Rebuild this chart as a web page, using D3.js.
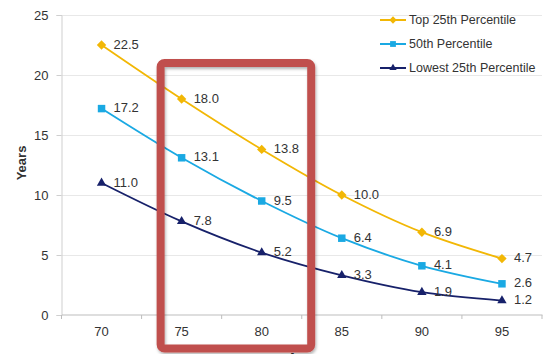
<!DOCTYPE html>
<html>
<head>
  <meta charset="utf-8">
  <title>Years by age and percentile</title>
  <script src="https://cdn.jsdelivr.net/npm/d3@7"></script>
  <style>
    body { margin: 0; background: #fff; }
    text { font-family: "Liberation Sans", Arial, sans-serif; fill: #333; }
  </style>
</head>
<body>
  <svg id="chart" width="548" height="354"></svg>
  <script>
    // data
    const ages = ["70", "75", "80", "85", "90", "95"];
    const top25 = [22.5, 18.0, 13.8, 10.0, 6.9, 4.7];
    const median = [17.2, 13.1, 9.5, 6.4, 4.1, 2.6];
    const lowest25 = [11.0, 7.8, 5.2, 3.3, 1.9, 1.2];
    const yTicks = [0, 5, 10, 15, 20, 25];
    const highlight = ["75", "80"];

    const series = [
      { name: "Top 25th Percentile", values: top25, color: "#f2b705", symbol: d3.symbolDiamond2, size: 56 },
      { name: "50th Percentile", values: median, color: "#1aa9e3", symbol: d3.symbolSquare, size: 56 },
      { name: "Lowest 25th Percentile", values: lowest25, color: "#17216a", symbol: d3.symbolTriangle, size: 38 }
    ];

    const svg = d3.select("#chart");
    const plotL = 61.5, plotR = 542, plotT = 15, plotB = 315;

    const x = d3.scaleBand().domain(ages).range([plotL, plotR]);
    const y = d3.scaleLinear().domain([0, 25]).range([plotB, plotT]);
    const cx = d => x(d) + x.bandwidth() / 2;

    // grid
    svg.append("g")
      .selectAll("line")
      .data(yTicks.filter(t => t > 0))
      .join("line")
      .attr("x1", plotL).attr("x2", plotR)
      .attr("y1", d => Math.round(y(d)) + 0.5).attr("y2", d => Math.round(y(d)) + 0.5)
      .attr("stroke", "#e8e8e8");

    // y axis
    const yAxis = svg.append("g")
      .attr("transform", `translate(${plotL},0)`)
      .call(d3.axisLeft(y).tickValues(yTicks).tickSize(5).tickPadding(8));
    yAxis.select(".domain").attr("stroke", "#cfcfcf");
    yAxis.selectAll(".tick line").attr("stroke", "#cfcfcf");
    yAxis.selectAll("text").style("font-size", "13px").attr("fill", "#333");

    // x axis, ticks sit between categories
    const xAxis = svg.append("g")
      .attr("transform", `translate(0,${plotB - 0.5})`)
      .call(d3.axisBottom(x).tickSize(0).tickPadding(12));
    xAxis.select(".domain").attr("stroke", "#bdbdbd");
    xAxis.selectAll("text").style("font-size", "13px").attr("fill", "#333");
    svg.append("g")
      .selectAll("line")
      .data(ages.concat(["end"]))
      .join("line")
      .attr("x1", (d, i) => plotL + i * x.bandwidth())
      .attr("x2", (d, i) => plotL + i * x.bandwidth())
      .attr("y1", plotB).attr("y2", plotB + 4)
      .attr("stroke", "#bdbdbd");

    svg.append("text")
      .attr("transform", "translate(26,163) rotate(-90)")
      .attr("text-anchor", "middle")
      .style("font-size", "13px")
      .style("font-weight", "bold")
      .attr("fill", "#222")
      .text("Years");

    // axis title sits mostly below the picture, as in the source
    svg.append("text")
      .attr("x", 300).attr("y", 362)
      .attr("text-anchor", "middle")
      .style("font-size", "13px")
      .style("font-weight", "bold")
      .attr("fill", "#222")
      .text("Age");

    const line = d3.line()
      .x((d, i) => cx(ages[i]))
      .y(d => y(d))
      .curve(d3.curveCatmullRom.alpha(0.5));

    series.forEach(s => {
      const g = svg.append("g");
      g.append("path")
        .attr("d", line(s.values))
        .attr("fill", "none")
        .attr("stroke", s.color)
        .attr("stroke-width", 1.8);
      g.selectAll("path.mark")
        .data(s.values)
        .join("path")
        .attr("class", "mark")
        .attr("transform", (d, i) => `translate(${cx(ages[i])},${y(d)})`)
        .attr("d", d3.symbol(s.symbol, s.size))
        .attr("fill", s.color);
      g.selectAll("text")
        .data(s.values)
        .join("text")
        .attr("x", (d, i) => cx(ages[i]) + 12)
        .attr("y", d => y(d) - 1)
        .attr("dy", "0.35em")
        .style("font-size", "13px")
        .text(d => d.toFixed(1));
    });

    // legend
    const legend = svg.append("g").attr("transform", "translate(380,20)");
    series.forEach((s, i) => {
      const row = legend.append("g").attr("transform", `translate(0,${i * 24})`);
      row.append("line")
        .attr("x1", 0).attr("x2", 26)
        .attr("stroke", s.color).attr("stroke-width", 2);
      row.append("path")
        .attr("transform", "translate(13,0)")
        .attr("d", d3.symbol(s.symbol, s.size * 0.6))
        .attr("fill", s.color);
      row.append("text")
        .attr("x", 29).attr("dy", "0.35em")
        .style("font-size", "12.5px")
        .text(s.name);
    });

    // highlight box around 75-80
    const defs = svg.append("defs");
    const f = defs.append("filter").attr("id", "shadow")
      .attr("x", "-10%").attr("y", "-10%").attr("width", "120%").attr("height", "120%");
    f.append("feDropShadow")
      .attr("dx", 1).attr("dy", 2).attr("stdDeviation", 1.5)
      .attr("flood-color", "#000").attr("flood-opacity", 0.3);

    const boxL = cx(highlight[0]) - 21;
    const boxR = cx(highlight[1]) + 49.5;
    svg.append("rect")
      .attr("x", boxL).attr("y", y(21))
      .attr("width", boxR - boxL)
      .attr("height", plotB + 33.5 - y(21))
      .attr("rx", 4)
      .attr("fill", "none")
      .attr("stroke", "#c0504d")
      .attr("stroke-width", 8)
      .attr("filter", "url(#shadow)");
  </script>
</body>
</html>
